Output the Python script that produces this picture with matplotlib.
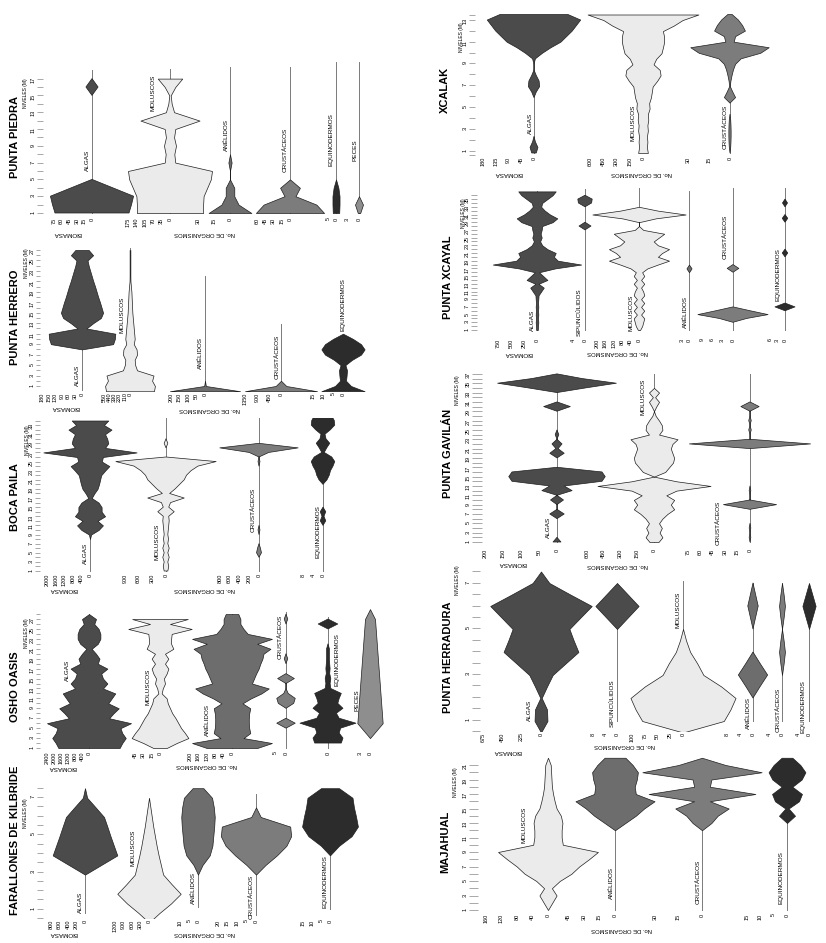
import numpy as np
import matplotlib
matplotlib.use("Agg")
import matplotlib.pyplot as plt

plt.rcParams["font.family"] = ["Liberation Sans", "DejaVu Sans"]

W, H = 826, 943

# fill colours per group
ALG = "#4b4b4b"
MOL = "#ebebeb"
ANE = "#6d6d6d"
CRU = "#7c7c7c"
EQU = "#2c2c2c"
PEC = "#8e8e8e"
SIP = "#4b4b4b"

# ---------------- values ----------------
# (half-width of each kite at each level, in the units of its own scale)

# Punta Piedra, levels 1-17
pp_lv = list(range(1, 18))
pp_algas = [73, 78, 82, 41, 0, 0, 0, 0, 0, 0, 0, 0, 0, 0, 0, 12, 0]
pp_mol = [138, 138, 140, 155, 170, 175, 22, 18, 25, 17, 22, 123, 17, 7, 3, 22, 51]
pp_anel = [20, 8, 4, 4, 0, 0, 1.5, 0, 0, 0, 0, 0, 0, 0, 0, 0, 0]
pp_crus = [62, 48, 10, 18, 0, 0, 0, 0, 0, 0, 0, 0, 0, 0, 0, 0, 0]
pp_equi = [2, 2.2, 2.2, 1.5, 0, 0, 0, 0, 0, 0, 0, 0, 0, 0, 0, 0, 0]
pp_peces = [0.3, 1, 0, 0, 0, 0, 0, 0, 0, 0, 0, 0, 0, 0, 0, 0, 0]

# Punta Herrero, levels 0-27
ph_lv = list(range(0, 28))
ph_algas = [0, 0, 0, 0, 0, 0, 0, 0, 0, 140, 148, 150, 20, 50, 85, 95, 88, 81,
            73, 66, 59, 51, 44, 37, 30, 25, 50, 30]
ph_mol = [510, 530, 470, 500, 150, 110, 100, 150, 140, 80, 100, 90, 80, 70, 60,
          50, 45, 40, 35, 30, 20, 10, 8, 8, 8, 8, 8, 8]
ph_anel = [206, 5, 0, 0, 0, 0, 0, 0, 0, 0, 0, 0, 0, 0, 0, 0, 0, 0, 0, 0, 0, 0,
           0, 0, 0, 0, 0, 0]
ph_crus = [1350, 200, 0, 0, 0, 0, 0, 0, 0, 0, 0, 0, 0, 0, 0, 0, 0, 0, 0, 0, 0,
           0, 0, 0, 0, 0, 0, 0]
ph_equi = [10.8, 4, 1.5, 1.8, 2, 1.2, 4.5, 9, 10.8, 9, 5, 0, 0, 0, 0, 0, 0, 0,
           0, 0, 0, 0, 0, 0, 0, 0, 0, 0]

# Boca Paila, levels 1-35
bp_lv = list(range(1, 36))
bp_algas = [0, 0, 0, 0, 0, 0, 0, 0, 50, 400, 600, 350, 700, 540, 540, 400, 80,
            200, 350, 420, 470, 520, 700, 900, 550, 600, 2170, 700, 850, 800,
            700, 1000, 650, 850, None]
bp_mol = [40, 60, 40, 70, 40, 70, 40, 55, 40, 50, 60, 70, 60, 180, 60, 100, 400,
          80, 200, 300, 400, 450, 550, 700, 1100, 0, 0, 0, 40, 0, 0, 0, 0, 0, 0]
bp_crus = [0, 0, 0, 0, 50, 30, 0, 0, 0, 20, 0, 0, 0, 0, 0, 0, 0, 0, 0, 0, 0, 0,
           0, 0, 20, 0, 200, 800, 0, 0, 0, 0, 0, 0, 0]
bp_equi = [0, 0, 0, 0, 0, 0, 0, 0, 0, 0, 0, 1.1, 0.4, 1.1, 0, 0, 0, 0, 0, 0,
           1.6, 2.5, 3, 4, 4.7, 3.5, 0.5, 1.5, 2.7, 1.2, 0.8, 3, 4.7, 4.5, 3.5]

# Osho Oasis, levels 1-28
oo_lv = list(range(1, 29))
oo_algas = [1750, 1900, 2100, 1900, 1800, 2400, 1150, 1400, 1700, 1100, 1300,
            1500, 800, 1050, 800, 700, 1050, 500, 600, 400, 150, 500, 650, 650,
            550, 300, 400, 0]
oo_mol = [12, 30, 51, 45, 38, 33, 28, 22, 18, 14, 12, 3, 5, 9, 7, 12, 15, 9, 15,
          9, 24, 20, 20, 21, 57, 18, 50, None]
oo_anel = [120, 190, 55, 87, 82, 80, 80, 82, 87, 50, 90, 140, 175, 95, 105, 115,
           127, 135, 145, 150, 183, 120, 190, 75, 55, 40, 40, 30]
oo_crus = [0, 0, 0, 0, 0, 4.2, 0, 0, 0, 3.5, 4.2, 1, 0, 0, 3.8, 0, 0, 0, 0.8, 0,
           0, 0, 0, 0, 0, 0, 0.8, 0]
oo_equi = [None, 9.5, 10.7, 8, 9, 20, 8, 6, 10.7, 7, 8, 9.5, 2, 1.5, 2, 1.2,
           1.5, 1.2, 1, 1, 1, 0, 0, 0, 0, 7, 0, 0]
oo_peces_lv = [3, 6, 27, 29]
oo_peces = [0, 3.8, 1.5, 0]

# Farallones de Kilbride, levels 0.5-7.5
fk_lv = [0.5, 1, 1.5, 2, 2.5, 3, 3.5, 4, 4.5, 5, 5.5, 6, 6.5, 7, 7.5]
fk_algas = [None, None, None, None, None, 0, 380, 760, 680, 600, 525, 447, 250, 50, 0]
fk_mol = [0, 370, 780, 1120, 800, 500, 420, 340, 270, 210, 150, 100, 50, 0, None]
fk_anel = [None, None, None, None, None, 0, 2.5, 6.5, 8, 8.5, 9, 9.3, 8.8, 7.8, 3]
fk_crus = [None, None, None, None, None, 0, 5, 11, 16, 18.5, 18, 2.5, 0, None, None]
fk_equi = [None, None, None, None, None, None, None, 0, 5, 12, 15.5, 14.5, 13.3, 12.5, 5]

# Xcalak, levels 1-13.5
xc_lv = [1, 1.5, 2, 2.5, 3, 3.5, 4, 4.5, 5, 5.5, 6, 6.5, 7, 7.5, 8, 8.5, 9, 9.5,
         10, 10.5, 11, 11.5, 12, 12.5, 13, 13.5]
xc_algas = [8, 14, 5, 0, 0, 0, 0, 0, 0, 0, 0, 8, 20, 18, 8, 0, 0, 5, 30, 60, 95,
            115, 135, 150, 165, 120]
xc_mol = [55, 45, 50, 45, 55, 50, 60, 55, 75, 70, 90, 100, 110, 160, 200, 190,
          120, 150, 210, 226, 240, 240, 226, 350, 450, 630]
xc_crus = [0, 0.5, 0.7, 0.8, 0.8, 0.7, 0.5, 0, 0, 0, 4, 2, 0.2, 0.7, 1.5, 2.5, 4,
           8, 22, 28, 3, 4, 11, 9, 6, 1.5]

# Punta Xcayal, levels 1-37
px_lv = list(range(1, 38))
px_algas = [15, 20, 25, 20, 25, 20, 25, 20, 25, 30, 80, 130, 30, 200, 120, 40,
            350, 850, 400, 325, 360, 200, 100, 60, 90, 70, 90, 100, 300, 390,
            250, 150, 80, 100, 200, 300, 360]
px_sip = [0, 0, 0, 0, 0, 0, 0, 0, 0, 0, 0, 0, 0, 0, 0, 0, 0, 0, 0, 0, 0, 0, 0,
          0, 0, 0, 0, 2, 0, 0, 0, 0, 0, 2.2, 2.4, 0, 0]
px_mol = [5, 15, 20, 25, 10, 25, 10, 25, 10, 25, 20, 10, 25, 10, 25, 15, 40, 90,
          143, 90, 110, 143, 90, 70, 95, 120, 20, 0, 0, 80, 222, 90, 0, 0, 0, 0, 0]
px_anel = [0, 0, 0, 0, 0, 0, 0, 0, 0, 0, 0, 0, 0, 0, 0, 0, 1.1, 0, 0, 0, 0, 0,
           0, 0, 0, 0, 0, 0, 0, 0, 0, 0, 0, 0, 0, 0, 0]
px_crus = [0, 0, 0, 4, 10.2, 5, 0, 0, 0, 0, 0, 0, 0, 0, 0, 0, 1.7, 0, 0, 0, 0,
           0, 0, 0, 0, 0, 0, 0, 0, 0, 0, 0, 0, 0, 0, 0, 0]
px_equi = [0, 0, 0, 0, 0, 0, 4, 0, 0, 0, 0, 0, 0, 0, 0, 0, 0, 0, 0, 0, 1.1, 0,
           0, 0, 0, 0, 0, 0, 0, 1.1, 0, 0, 0, 1, 0, 0, 0]

# Punta Gavilan, levels 1-37
pg_lv = list(range(1, 38))
pg_algas = [11, 0, 0, 0, 0, 0, 20, 0, 0, 18, 0, 42, 20, 125, 134, 125, 0, 0, 0,
            20, 3, 14, 0, 5, 0, 0, 0, 0, 0, 37, 0, 0, 0, 80, 165, 70, 0]
pg_mol = [40, 75, 50, 70, 45, 75, 120, 180, 150, 180, 110, 200, 505, 200, 0, 100,
          135, 170, 180, 165, 150, 165, 210, 45, 75, 70, 45, 15, 0, 20, 45, 10,
          45, 0, 0, 0, 0]
pg_crus = [0, 1, 0, 1, 0, 0, 0, 0, 32, 0, 0, 1, 0, 0, 0, 0, 0, 0, 0, 0, 0, 73,
           0, 0, 1.5, 0, 1.5, 0, 0, 11, 0, 0, 0, 0, 0, 0, 0]

# Punta Herradura, levels 0.5-7.5
hd_lv = [0.5, 1, 1.5, 2, 2.5, 3, 3.5, 4, 4.5, 5, 5.5, 6, 6.5, 7, 7.5]
hd_algas = [0, 75, 70, 8, 70, 136, 285, 435, 380, 330, 460, 590, 340, 97, 0]
hd_sip = [None, None, None, None, None, None, None, None, None, 0, 3.6, 7.2, 3.6, 0, None]
hd_mol = [0, 80, 93, 103, 75, 40, 28, 14, 6, 0, None, None, None, None, None]
hd_anel = [None, None, None, 0, 2.2, 4.5, 2.2, 0, 0, 0, 0.8, 1.6, 0.8, 0, None]
hd_crus = [None, None, None, None, None, 0, 0.5, 0.9, 0.5, 0, 0.5, 0.9, 0.5, 0, None]
hd_equi = [None, None, None, None, None, None, None, None, None, 0, 1.2, 2.4, 1.2, 0, None]

# Majahual, levels 1-22
mj_lv = list(range(1, 23))
mj_mol = [0, 11, 22, 10, 30, 60, 80, 105, 128, 38, 35, 35, 37, 33, 22, 17, 13,
          10, 9, 8, 7, 0]
mj_anel = [0, 0, 0, 0, 0, 0, 0, 0, 0, 0, 0, 0, 10, 20, 28, 38, 20, 19, 21, 22,
           17, 10]
mj_crus = [0, 0, 0, 0, 0, 0, 0, 0, 0, 0, 0, 0, 6, 10, 17, 5, 34, 5, 6, 38, 15, 0]
mj_equi = [0, 0, 0, 0, 0, 0, 0, 0, 0, 0, 0, 0, 0, 3, 0.6, 4.5, 5.6, 2, 5.5, 6.9,
           5, 2]


def kite(name, vals, cx, s, ticks, color, lab, line=None, lv=None):
    return dict(name=name, vals=vals, cx=cx, s=s, ticks=ticks, color=color,
                lab=lab, line=line, lv=lv)


panels = [
    dict(title="PUNTA PIEDRA", tpos=(15, 137), y1=213, ppl=8.4, top=58, bot=216,
         lx=43, llen=6, lticks=pp_lv, niv=(25, 93), bio=(67, 234), org=(205, 234),
         lv=pp_lv, kites=[
             kite("ALGAS", pp_algas, 92, 0.507, [75, 60, 45, 30, 15, 0], ALG, (87, 160), (1, 18)),
             kite("MOLUSCOS", pp_mol, 170, 0.24, [175, 140, 105, 70, 35, 0], MOL, (153, 93), (1, 18.2)),
             kite("ANÉLIDOS", pp_anel, 230, 1.07, [30, 15, 0], ANE, (226, 135), (1, 18.4)),
             kite("CRUSTÁCEOS", pp_crus, 290, 0.55, [60, 45, 30, 15, 0], CRU, (285, 150), (1, 18.4)),
             kite("EQUINODERMOS", pp_equi, 336, 1.6, [5, 0], EQU, (331, 140), (1, 19)),
             kite("PECES", pp_peces, 359, 4.0, [3, 0], PEC, (355, 150), (1, 19)),
         ]),
    dict(title="PUNTA HERRERO", tpos=(15, 317), y1=386, ppl=5.23, top=245, bot=391,
         lx=40, llen=4, lticks=list(range(1, 28)), niv=(26, 263), bio=(65, 407),
         org=(210, 410), lv=ph_lv, kites=[
             kite("ALGAS", ph_algas, 82, 0.222, [180, 150, 120, 90, 60, 30, 0], ALG, (77, 375), (0, 8)),
             kite("MOLUSCOS", ph_mol, 130, 0.047, [550, 440, 330, 220, 110, 0], MOL, (122, 315), (0, 27.3)),
             kite("ANÉLIDOS", ph_anel, 205, 0.17, [200, 150, 100, 50, 0], ANE, (200, 353), (0, 22)),
             kite("CRUSTÁCEOS", ph_crus, 281, 0.0267, [1350, 900, 450, 0], CRU, (277, 357), (0, 12.9)),
             kite("EQUINODERMOS", ph_equi, 343, 2.0, [15, 10, 5, 0], EQU, (343, 305)),
         ]),
    dict(title="BOCA PAILA", tpos=(15, 497), y1=571, ppl=4.56, top=418, bot=572,
         lx=40, llen=5, lticks=list(range(1, 35)), niv=(27, 440), bio=(63, 590),
         org=(205, 590), lv=bp_lv, kites=[
             kite("ALGAS", bp_algas, 90, 0.0215, [2000, 1600, 1200, 800, 400, 0], ALG, (85, 553), (1, 9)),
             kite("MOLUSCOS", bp_mol, 166, 0.0456, [900, 600, 300, 0], MOL, (157, 542), (1, 34.5)),
             kite("CRUSTÁCEOS", bp_crus, 259, 0.049, [800, 600, 400, 200, 0], CRU, (253, 510), (1, 35.1)),
             kite("EQUINODERMOS", bp_equi, 323, 2.5, [8, 4, 0], EQU, (318, 532), (1, 21)),
         ]),
    dict(title="OSHO OASIS", tpos=(15, 687), y1=748, ppl=4.96, top=603, bot=750,
         lx=40, llen=4, lticks=list(range(1, 29)), niv=(26, 633), bio=(62, 768),
         org=(207, 765), lv=oo_lv, kites=[
             kite("ALGAS", oo_algas, 89, 0.0175, [2400, 2000, 1600, 1200, 800, 400, 0], ALG, (67, 670), (1, 28)),
             kite("MOLUSCOS", oo_mol, 160, 0.556, [45, 30, 15, 0], MOL, (148, 687)),
             kite("ANÉLIDOS", oo_anel, 232, 0.21, [200, 160, 120, 80, 40, 0], ANE, (207, 720), (1, 28)),
             kite("CRUSTÁCEOS", oo_crus, 286, 2.2, [5, 0], CRU, (280, 637), (1, 28.5)),
             kite("EQUINODERMOS", oo_equi, 328, 1.4, [0], EQU, (337, 660), (1, 27.5)),
             kite("PECES", oo_peces, 370, 3.33, [3, 0], PEC, (357, 700), None, oo_peces_lv),
         ]),
    dict(title="FARALLONES DE KILBRIDE", tpos=(15, 840), y1=913, ppl=19.2, top=778,
         bot=918, lx=43, llen=6, lticks=fk_lv, niv=(25, 813), bio=(63, 933),
         org=(205, 933), lv=fk_lv, kites=[
             kite("ALGAS", fk_algas, 85, 0.0425, [800, 600, 400, 200, 0], ALG, (80, 902), (1, 3)),
             kite("MOLUSCOS", fk_mol, 149, 0.0283, [1200, 900, 600, 300, 0], MOL, (133, 848)),
             kite("ANÉLIDOS", fk_anel, 198, 1.8, [10, 5, 0], ANE, (193, 888), (1.3, 3.3)),
             kite("CRUSTÁCEOS", fk_crus, 256, 1.9, [20, 15, 10, 5, 0], CRU, (251, 897), (0.9, 7.2)),
             kite("EQUINODERMOS", fk_equi, 330, 1.8, [15, 10, 5, 0], EQU, (325, 882), (1.2, 4.3)),
         ]),
    dict(title="XCALAK", tpos=(445, 90), y1=153, ppl=11.08, top=8, bot=155,
         lx=475, llen=6, lticks=[0.6] + list(range(1, 14)) + [13.4], niv=(462, 37),
         bio=(508, 173), org=(642, 173), lv=xc_lv, kites=[
             kite("ALGAS", xc_algas, 534, 0.283, [180, 135, 90, 45, 0], ALG, (530, 123), (1, 9.4)),
             kite("MOLUSCOS", xc_mol, 643, 0.088, [600, 450, 300, 150, 0], MOL, (633, 123)),
             kite("CRUSTÁCEOS", xc_crus, 730, 1.4, [30, 15, 0], CRU, (725, 127), (1, 13)),
         ]),
    dict(title="PUNTA XCAYAL", tpos=(448, 277), y1=330, ppl=3.85, top=184, bot=337,
         lx=477, llen=6, lticks=list(range(1, 37)), niv=(463, 213), bio=(518, 353),
         org=(618, 352), lv=px_lv, kites=[
             kite("ALGAS", px_algas, 537, 0.052, [750, 500, 250, 0], ALG, (532, 320), (1, 37)),
             kite("SIPUNCÚLIDOS", px_sip, 585, 3.0, [4, 0], SIP, (579, 312), (1, 37.5)),
             kite("MOLUSCOS", px_mol, 639, 0.21, [200, 160, 120, 80, 40, 0], MOL, (631, 313), (1, 38)),
             kite("ANÉLIDOS", px_anel, 689, 2.33, [3, 0], ANE, (685, 312), (1, 37)),
             kite("CRUSTÁCEOS", px_crus, 733, 3.44, [9, 6, 3, 0], CRU, (725, 237), (1, 38)),
             kite("EQUINODERMOS", px_equi, 785, 2.5, [6, 3, 0], EQU, (778, 275), (1, 38)),
         ]),
    dict(title="PUNTA GAVILÁN", tpos=(448, 453), y1=542, ppl=4.67, top=368, bot=547,
         lx=482, llen=10, lticks=list(range(1, 38)), niv=(458, 390), bio=(512, 564),
         org=(618, 565), lv=pg_lv, kites=[
             kite("ALGAS", pg_algas, 557, 0.36, [200, 150, 100, 50, 0], ALG, (548, 527), (1, 37)),
             kite("MOLUSCOS", pg_mol, 654, 0.112, [600, 450, 300, 150, 0], MOL, (643, 397), (1, 37)),
             kite("CRUSTÁCEOS", pg_crus, 750, 0.83, [75, 60, 45, 30, 15, 0], CRU, (718, 523), (1, 37)),
         ]),
    dict(title="PUNTA HERRADURA", tpos=(448, 657), y1=721, ppl=23, top=566, bot=731,
         lx=480, llen=8, lticks=hd_lv, niv=(458, 580), bio=(507, 752),
         org=(625, 745), lv=hd_lv, kites=[
             kite("ALGAS", hd_algas, 541, 0.086, [675, 450, 225, 0], ALG, (529, 710)),
             kite("SIPUNCÚLIDOS", hd_sip, 617, 3.0, [8, 4, 0], SIP, (612, 703), (1, 5)),
             kite("MOLUSCOS", hd_mol, 683, 0.51, [100, 75, 50, 25, 0], MOL, (678, 610), (5, 7.1)),
             kite("ANÉLIDOS", hd_anel, 753, 3.25, [8, 4, 0], ANE, (748, 713), (1, 7)),
             kite("CRUSTÁCEOS", hd_crus, 782, 3.25, [4, 0], CRU, (778, 710), (1, 7)),
             kite("EQUINODERMOS", hd_equi, 809, 2.75, [4, 0], EQU, (803, 707), (1, 5)),
         ]),
    dict(title="MAJAHUAL", tpos=(445, 842), y1=910, ppl=7.25, top=755, bot=912,
         lx=478, llen=9, lticks=list(range(1, 22)), niv=(455, 782), bio=None,
         org=(622, 929), lv=mj_lv, kites=[
             kite("MOLUSCOS", mj_mol, 548, 0.39, [160, 120, 80, 40, 0], MOL, (524, 825)),
             kite("ANÉLIDOS", mj_anel, 615, 1.04, [45, 30, 15, 0], ANE, (611, 883), (1, 12.4)),
             kite("CRUSTÁCEOS", mj_crus, 702, 1.57, [30, 15, 0], CRU, (698, 882), (1, 12.5)),
             kite("EQUINODERMOS", mj_equi, 787, 2.67, [15, 10, 5, 0], EQU, (781, 878), (1, 13.4)),
         ]),
]

fig = plt.figure(figsize=(W / 100, H / 100), dpi=100)
fig.patch.set_facecolor("white")


def px_axes(x0, x1, y_top, y_bot):
    # axes placed by pixel box (origin top-left)
    return fig.add_axes([x0 / W, 1 - y_bot / H, (x1 - x0) / W, (y_bot - y_top) / H])


def fig_text(x, y, s, **kw):
    fig.text(x / W, 1 - y / H, s, ha="center", va="center", **kw)


def kite_values(vals):
    # drop zero stretches that are not next to a real kite (only the centre line shows there)
    v = np.array(vals, dtype=float)
    keep = v > 0
    near = keep.copy()
    near[1:] |= keep[:-1]
    near[:-1] |= keep[1:]
    return np.where(near, v, np.nan)


def bare(ax):
    ax.patch.set_visible(False)
    for sp in ax.spines.values():
        sp.set_visible(False)


for p in panels:
    ylo = 1 - (p["bot"] - p["y1"]) / p["ppl"]
    yhi = 1 + (p["y1"] - p["top"]) / p["ppl"]

    # levels axis
    lax = px_axes(p["lx"], p["lx"] + 1, p["top"], p["bot"])
    bare(lax)
    lax.set_ylim(ylo, yhi)
    lax.set_xticks([])
    lax.set_yticks(p["lticks"])
    lax.set_yticklabels([str(int(t)) if t == int(t) and int(t) % 2 == 1 else ""
                         for t in p["lticks"]])
    lax.tick_params(axis="y", length=p["llen"] * 0.72, width=0.6, color="#9a9a9a",
                    pad=0.8, labelsize=4, labelrotation=90)

    for k in p["kites"]:
        half = 230
        ax = px_axes(k["cx"] - half, k["cx"] + half, p["top"], p["bot"])
        bare(ax)
        ax.set_xlim(-half / k["s"], half / k["s"])
        ax.set_ylim(ylo, yhi)
        ax.yaxis.set_visible(False)
        ax.set_xticks([-t for t in k["ticks"]])
        ax.set_xticklabels([str(t) for t in k["ticks"]])
        ax.tick_params(axis="x", length=0, pad=1, labelsize=4, labelrotation=90)

        lv = k["lv"] if k["lv"] is not None else p["lv"]
        assert len(lv) == len(k["vals"]), (p["title"], k["name"])
        v = kite_values(k["vals"])
        if k["line"] is not None:
            ax.plot([0, 0], k["line"], color="#7a7a7a", lw=0.7, zorder=1)
        ax.fill_betweenx(lv, -v, v, facecolor=k["color"], edgecolor="#1e1e1e",
                         linewidth=0.5, zorder=2)
        fig_text(k["lab"][0], k["lab"][1], k["name"], rotation=90, fontsize=4.6)

    fig_text(p["tpos"][0], p["tpos"][1], p["title"], rotation=90, fontsize=8,
             fontweight="bold")
    fig_text(p["niv"][0], p["niv"][1], "NIVELES (M)", rotation=90, fontsize=3.6)
    if p["bio"] is not None:
        fig_text(p["bio"][0], p["bio"][1], "BIOMASA", rotation=180, fontsize=4.5)
    fig_text(p["org"][0], p["org"][1], "No. DE ORGANISMOS", rotation=180, fontsize=4.2)

fig.savefig("out.png", dpi=100)
